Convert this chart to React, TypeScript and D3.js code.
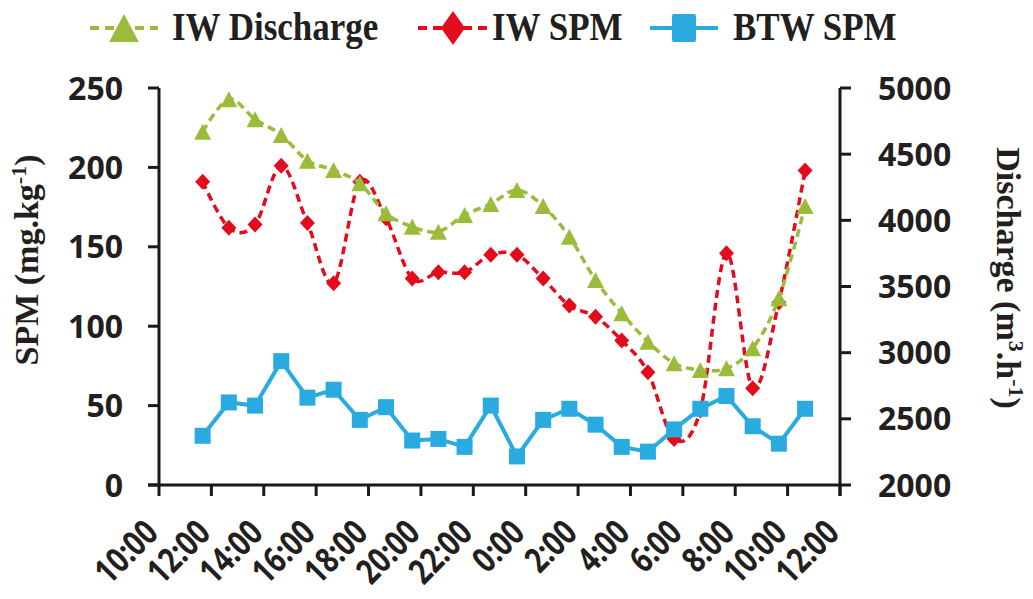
import React from 'react';
import * as d3 from 'd3';

// sampling times (hourly, over two days)
const sampleTimes = [
  '11:40', '12:40', '13:40', '14:40', '15:40', '16:40', '17:40', '18:40',
  '19:40', '20:40', '21:40', '22:40', '23:40', '0:40', '1:40', '2:40',
  '3:40', '4:40', '5:40', '6:40', '7:40', '8:40', '9:40', '10:40',
];

// IW discharge (m3/h), right axis
const iwDischarge = [
  4670, 4915, 4764, 4645, 4451, 4380, 4280, 4053, 3952, 3914, 4040, 4124,
  4229, 4108, 3876, 3549, 3298, 3083, 2920, 2869, 2882, 3033, 3411, 4108,
];

// IW SPM (mg/kg), left axis
const iwSpm = [
  191, 162, 164, 201, 165, 127, 191, 168, 130, 134, 134, 145,
  145, 130, 113, 106, 91, 71, 29, 47, 146, 61, 115, 198,
];

// BTW SPM (mg/kg), left axis
const btwSpm = [
  31, 52, 50, 78, 55, 60, 41, 49, 28, 29, 24, 50,
  18, 41, 48, 38, 24, 21, 35, 48, 56, 37, 26, 48,
];

const spmTicks = [0, 50, 100, 150, 200, 250];
const dischargeTicks = [2000, 2500, 3000, 3500, 4000, 4500, 5000];

const GREEN = '#9BBB3B';
const RED = '#E30B1C';
const BLUE = '#29ABE2';
const INK = '#231f20';

const NUM_FONT = '"Open Sans", "Liberation Sans", sans-serif';
const SERIF = '"Liberation Serif", "DejaVu Serif", serif';

// turn "H:MM" strings into dates, rolling over to the next day after midnight
function toDates(list: string[]): Date[] {
  let day = 1;
  let prev = -1;
  return list.map((t) => {
    const [h, m] = t.split(':').map(Number);
    if (h < prev) day += 1;
    prev = h;
    return new Date(2020, 0, day, h, m);
  });
}

const triangle = (s: number) => `M0,${-s} L${s * 1.06},${s} L${-s * 1.06},${s} Z`;
const diamond = (w: number, h: number) => `M0,${-h} L${w},0 L0,${h} L${-w},0 Z`;

const LegendText: React.FC<{ x: number; label: string }> = ({ x, label }) => (
  <text transform={`translate(${x},40) scale(1,1.15)`}
    fontFamily={SERIF} fontWeight={700} fontSize={35} fill={INK}>{label}</text>
);

const App: React.FC = () => {
  const dates = toDates(sampleTimes);

  const x = d3.scaleTime()
    .domain([new Date(2020, 0, 1, 10, 0), new Date(2020, 0, 2, 12, 0)])
    .range([159, 840]);
  const ySpm = d3.scaleLinear().domain([0, 250]).range([485, 88]);
  const yQ = d3.scaleLinear().domain([2000, 5000]).range([485, 88]);

  const xTicks = x.ticks(d3.timeHour.every(2) as d3.TimeInterval);
  const fmt = d3.timeFormat('%-H:%M');

  const smooth = d3.curveCardinal.tension(0);

  const dischargeLine = d3.line<number>()
    .x((_, i) => x(dates[i]))
    .y((d) => yQ(d))
    .curve(smooth);
  const iwSpmLine = d3.line<number>()
    .x((_, i) => x(dates[i]))
    .y((d) => ySpm(d))
    .curve(smooth);
  const btwLine = d3.line<number>()
    .x((_, i) => x(dates[i]))
    .y((d) => ySpm(d));

  const [x0, x1] = x.range();
  const yBottom = ySpm(0);
  const yTop = ySpm(250);

  return (
    <svg
      width={1033}
      height={599}
      style={{ position: 'absolute', left: 0, top: 0, background: '#fff' }}
    >
      {/* legend */}
      <g>
        <line x1={90} x2={158} y1={28} y2={28} stroke={GREEN} strokeWidth={4} strokeDasharray="9 6" />
        <path d={triangle(14)} transform="translate(124,28)" fill={GREEN} />
        <LegendText x={172} label="IW Discharge" />

        <line x1={418} x2={487} y1={28} y2={28} stroke={RED} strokeWidth={4} strokeDasharray="9 6" />
        <path d={diamond(12, 17)} transform="translate(453,28)" fill={RED} />
        <LegendText x={492} label="IW SPM" />

        <line x1={650} x2={718} y1={28} y2={28} stroke={BLUE} strokeWidth={4} />
        <rect x={672} y={14} width={24} height={28} rx={2} fill={BLUE} />
        <LegendText x={733} label="BTW SPM" />
      </g>

      {/* series: red, then blue, then green on top */}
      <path d={iwSpmLine(iwSpm) || ''} fill="none" stroke={RED} strokeWidth={3.5} strokeDasharray="8 5" />
      {iwSpm.map((d, i) => (
        <path key={`r${i}`} d={diamond(7.5, 8)} transform={`translate(${x(dates[i])},${ySpm(d)})`} fill={RED} />
      ))}

      <path d={btwLine(btwSpm) || ''} fill="none" stroke={BLUE} strokeWidth={4} />
      {btwSpm.map((d, i) => (
        <rect key={`b${i}`} x={x(dates[i]) - 8} y={ySpm(d) - 8} width={16} height={16} fill={BLUE} />
      ))}

      <path d={dischargeLine(iwDischarge) || ''} fill="none" stroke={GREEN} strokeWidth={3.5} strokeDasharray="8 5" />
      {iwDischarge.map((d, i) => (
        <path key={`g${i}`} d={triangle(8)} transform={`translate(${x(dates[i])},${yQ(d)})`} fill={GREEN} />
      ))}

      {/* axes */}
      <g stroke="#1a1a1a" strokeWidth={3}>
        <line x1={x0} x2={x0} y1={yTop} y2={yBottom + 1.5} />
        <line x1={x1} x2={x1} y1={yTop} y2={yBottom + 11} />
        <line x1={x0 - 11} x2={x1 + 1.5} y1={yBottom} y2={yBottom} />
        {spmTicks.map((t) => (
          <line key={`lt${t}`} x1={x0 - 11} x2={x0} y1={ySpm(t)} y2={ySpm(t)} />
        ))}
        {dischargeTicks.map((t) => (
          <line key={`rt${t}`} x1={x1} x2={x1 + 11} y1={yQ(t)} y2={yQ(t)} />
        ))}
        {xTicks.map((t, i) => (
          <line key={`xt${i}`} x1={x(t)} x2={x(t)} y1={yBottom} y2={yBottom + 11} />
        ))}
      </g>

      {spmTicks.map((t) => (
        <text key={`ll${t}`} x={123} y={ySpm(t)} dy="0.36em" textAnchor="end"
          fontFamily={NUM_FONT} fontWeight={700} fontSize={32} fill={INK}>{t}</text>
      ))}
      {dischargeTicks.map((t) => (
        <text key={`rl${t}`} x={878} y={yQ(t)} dy="0.36em" textAnchor="start"
          fontFamily={NUM_FONT} fontWeight={700} fontSize={32} fill={INK}>{t}</text>
      ))}
      {xTicks.map((t, i) => (
        <text key={`xl${i}`} transform={`translate(${x(t) + 1},${yBottom + 50}) rotate(-45) scale(1,1.25)`}
          textAnchor="end"
          fontFamily={NUM_FONT} fontWeight={700} fontSize={28} fill={INK}>{fmt(t)}</text>
      ))}

      {/* axis titles */}
      <text transform="translate(38,260) rotate(-90)" textAnchor="middle"
        fontFamily={SERIF} fontWeight={700} fontSize={34} fill={INK}>
        SPM (mg.kg<tspan dy={-12} fontSize={22}>-1</tspan><tspan dy={12}>)</tspan>
      </text>
      <text transform="translate(997,278) rotate(90)" textAnchor="middle"
        fontFamily={SERIF} fontWeight={700} fontSize={34} fill={INK}>
        Discharge (m<tspan dy={-12} fontSize={22}>3</tspan><tspan dy={12}>.h</tspan><tspan dy={-12} fontSize={22}>-1</tspan><tspan dy={12}>)</tspan>
      </text>
    </svg>
  );
};

export default App;
